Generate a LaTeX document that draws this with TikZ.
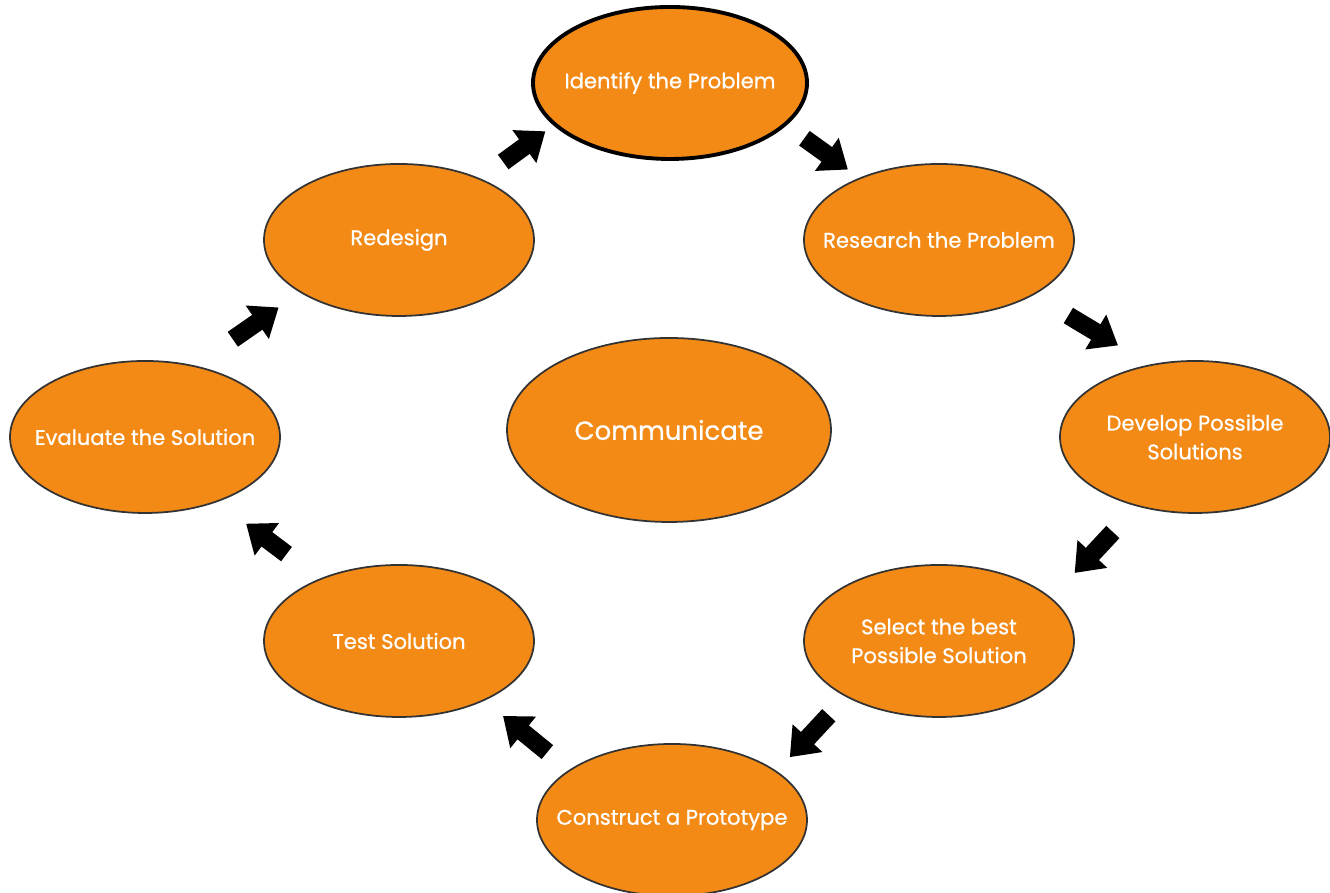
\documentclass[tikz,border=0pt]{standalone}
\usepackage{fontspec}
\setmainfont{Poppins}[FakeBold=0.7]
\usetikzlibrary{shapes.geometric,arrows.meta}

\definecolor{stageorange}{RGB}{243,138,22}

\begin{document}
\begin{tikzpicture}[
  stage/.style={ellipse, draw=black!80, line width=0.5pt, fill=stageorange,
    minimum width=2.7cm, minimum height=1.52cm, inner xsep=-6mm, inner ysep=0pt,
    text=white, align=center, font=\fontsize{6.0}{8.2}\selectfont},
  flow/.style={line width=1.8mm, -{Triangle[width=3.9mm,length=2.6mm]}}
]
  \useasboundingbox (0,0) rectangle (13.3,8.93);

  % the design loop, clockwise from the top
  \node[stage, draw=black, line width=1.1pt, minimum width=2.74cm] (identify) at (6.70,8.10) {Identify the Problem};
  \node[stage] (research)  at (9.39,6.53) {Research the Problem};
  \node[stage] (develop)   at (11.95,4.56) {Develop Possible\\Solutions};
  \node[stage] (select)    at (9.39,2.52) {Select the best\\Possible Solution};
  \node[stage] (construct) at (6.72,0.73) {Construct a Prototype};
  \node[stage] (test)      at (3.99,2.52) {Test Solution};
  \node[stage] (evaluate)  at (1.45,4.56) {Evaluate the Solution};
  \node[stage] (redesign)  at (3.99,6.53) {Redesign};

  % in the middle
  \node[stage, minimum width=3.24cm, minimum height=1.84cm, font=\fontsize{7.4}{10}\selectfont] (communicate) at (6.69,4.63) {Communicate};

  % block arrows, each leaves one ellipse and points at the next
  \foreach \a/\b/\pa/\pb/\ga/\gb in {
      redesign/identify/37/200/0.28/0.10,
      identify/research/340/142/0.22/0.14,
      research/develop/330/122/0.40/0.37,
      develop/select/230/21/0.35/0.34,
      select/construct/211/25/0.25/0.19,
      construct/test/154/325/0.28/0.24,
      test/evaluate/142/318/0.41/0.36,
      evaluate/redesign/55/208/0.46/0.26}
    \draw[flow, shorten <=\ga cm, shorten >=\gb cm] (\a.\pa) -- (\b.\pb);

\end{tikzpicture}
\end{document}
